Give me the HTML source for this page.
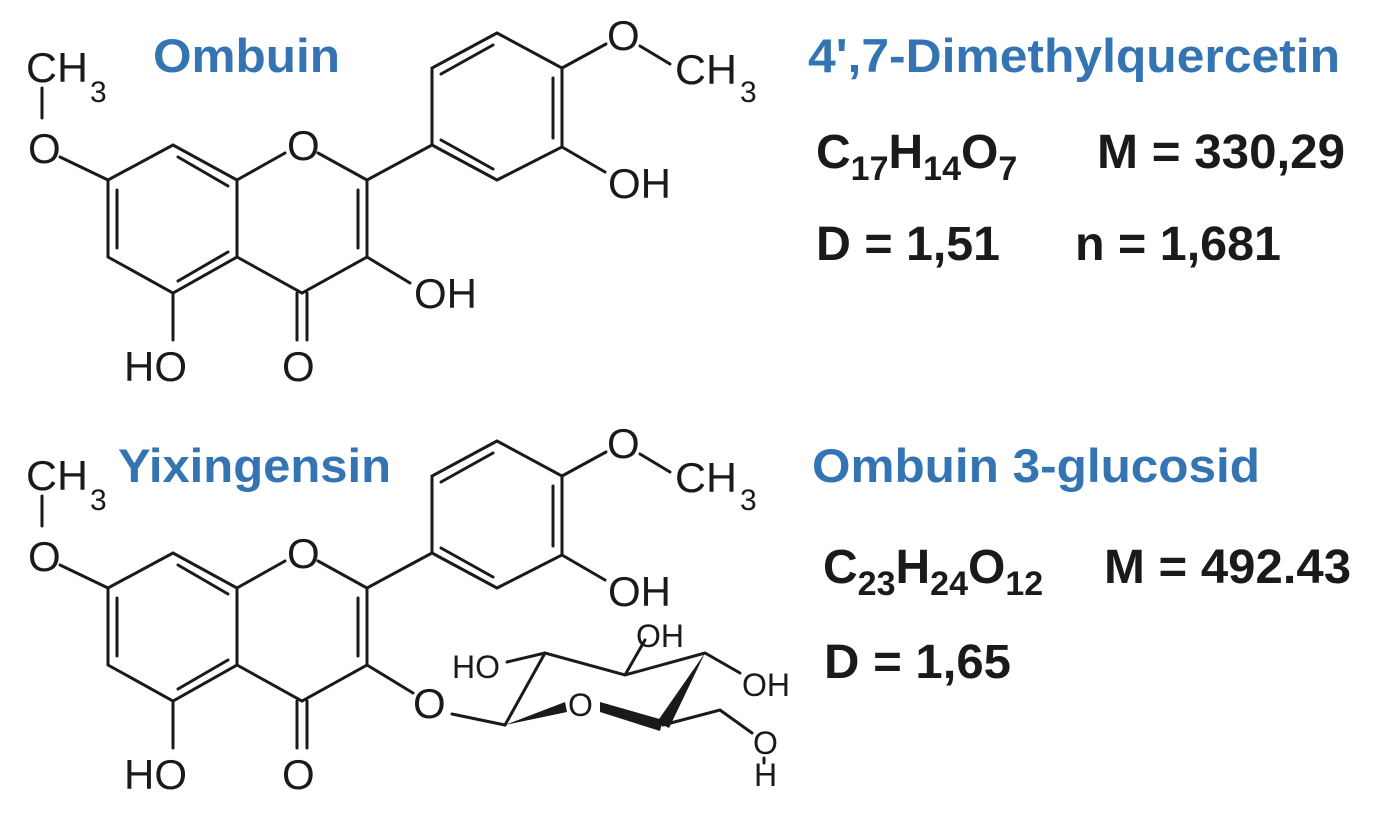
<!DOCTYPE html>
<html><head><meta charset="utf-8"><style>
html,body{margin:0;padding:0;background:#fff;}
svg{display:block;}
.b{stroke:#1a1a1a;stroke-width:3;fill:none;stroke-linecap:round;}
.a{font-family:"Liberation Sans",sans-serif;font-size:42px;fill:#1a1a1a;}
.s{font-family:"Liberation Sans",sans-serif;font-size:30px;fill:#1a1a1a;}
.g{font-family:"Liberation Sans",sans-serif;font-size:32px;fill:#1a1a1a;}
.t{font-family:"Liberation Sans",sans-serif;font-size:47px;font-weight:bold;fill:#3574b3;}
.k{font-family:"Liberation Sans",sans-serif;font-size:48px;font-weight:bold;fill:#1a1a1a;}
.ks{font-family:"Liberation Sans",sans-serif;font-size:34px;font-weight:bold;fill:#1a1a1a;}
</style></head><body>
<svg width="1386" height="826" viewBox="0 0 1386 826" xmlns="http://www.w3.org/2000/svg">
<defs>
<g id="mol">
  <path class="b" d="M42 88 V118 M60 157 L108 180
   M108 180 L173 145 L237 180 L237 257 L173 293 L108 257 L108 180
   M117 190 V248 M178 157 L228 186 M178 281 L228 252
   M237 180 L285 153 M318 153 L367 180 L367 257 L302 293 L237 257
   M358 190 V248
   M297 293 V340 M307 293 V340 M173 293 V340
   M367 180 L432 145
   M432 145 L432 68 L497 33 L562 68 L562 147 L497 180 L432 145
   M441 74 L493 45 M553 78 V138 M441 140 L493 169
   M562 68 L606 44 M640 46 L670 64 M562 147 L605 172"/>
  <text class="a" x="26" y="82" textLength="62" lengthAdjust="spacingAndGlyphs">CH</text>
  <text class="s" x="90" y="102">3</text>
  <text class="a" x="28" y="163">O</text>
  <text class="a" x="287" y="160">O</text>
  <text class="a" x="282" y="381">O</text>
  <text class="a" x="124" y="381">HO</text>
  <text class="a" x="607" y="50">O</text>
  <text class="a" x="675" y="84" textLength="62" lengthAdjust="spacingAndGlyphs">CH</text>
  <text class="s" x="740" y="102">3</text>
  <text class="a" x="608" y="198">OH</text>
</g>
</defs>
<use href="#mol"/>
<use href="#mol" transform="translate(0,408)"/>
<!-- top 3-OH -->
<path class="b" d="M367 257 L410 283"/>
<text class="a" x="414" y="308">OH</text>
<!-- bottom 3-O link -->
<path class="b" d="M367 665 L413 693"/>
<text class="a" x="413" y="718">O</text>
<!-- glucose -->
<path class="b" d="M452 714 L505 725 L545 653 L625 675 L705 653 L740 673
  M545 653 L507 662 M625 675 L645 640 M663 725 L720 710 L752 733 M764 758 V763"/>
<polygon points="505,725 565,702 567,712" fill="#1a1a1a"/>
<polygon points="600,702 663,720 660,731 600,712" fill="#1a1a1a"/>
<polygon points="705,653 669,728 657,722" fill="#1a1a1a"/>
<text class="g" x="452" y="678">HO</text>
<text class="g" x="568" y="716">O</text>
<text class="g" x="636" y="647">OH</text>
<text class="g" x="742" y="696">OH</text>
<text class="g" x="753" y="754">O</text>
<text class="g" x="754" y="786">H</text>
<!-- titles -->
<text class="t" x="153" y="72" textLength="187" lengthAdjust="spacingAndGlyphs">Ombuin</text>
<text class="t" x="118" y="482" textLength="273" lengthAdjust="spacingAndGlyphs">Yixingensin</text>
<text class="t" x="808" y="72" textLength="532" lengthAdjust="spacingAndGlyphs">4',7-Dimethylquercetin</text>
<text class="t" x="812" y="482" textLength="448" lengthAdjust="spacingAndGlyphs">Ombuin 3-glucosid</text>
<!-- formulae -->
<text class="k" x="816" y="168">C<tspan class="ks" dy="12">17</tspan><tspan dy="-12">H</tspan><tspan class="ks" dy="12">14</tspan><tspan dy="-12">O</tspan><tspan class="ks" dy="12">7</tspan></text>
<text class="k" x="1097" y="168" textLength="248" lengthAdjust="spacingAndGlyphs">M = 330,29</text>
<text class="k" x="816" y="260" textLength="184" lengthAdjust="spacingAndGlyphs">D = 1,51</text>
<text class="k" x="1075" y="260" textLength="206" lengthAdjust="spacingAndGlyphs">n = 1,681</text>
<text class="k" x="823" y="583">C<tspan class="ks" dy="12">23</tspan><tspan dy="-12">H</tspan><tspan class="ks" dy="12">24</tspan><tspan dy="-12">O</tspan><tspan class="ks" dy="12">12</tspan></text>
<text class="k" x="1104" y="583" textLength="247" lengthAdjust="spacingAndGlyphs">M = 492.43</text>
<text class="k" x="824" y="678" textLength="187" lengthAdjust="spacingAndGlyphs">D = 1,65</text>
</svg>
</body></html>
